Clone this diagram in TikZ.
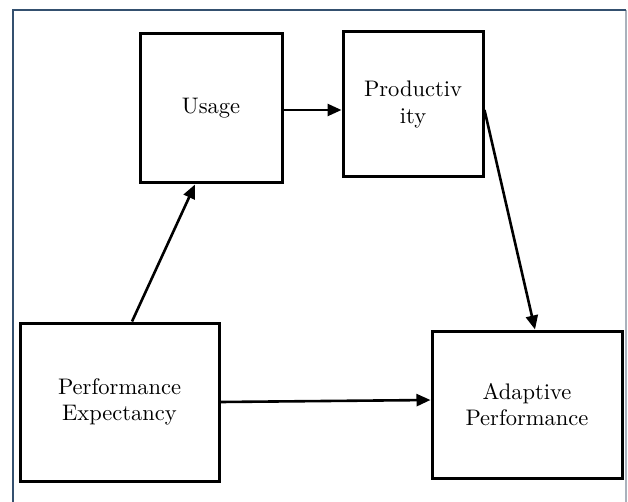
\documentclass[tikz,border=0pt]{standalone}
\usepackage{fontspec}
\setmainfont{lmroman10-regular}[Extension=.otf]
\usetikzlibrary{arrows.meta}
\definecolor{frameblue}{HTML}{34506F}
\definecolor{framegray}{HTML}{A9B2BC}
\begin{document}
\begin{tikzpicture}[x=1pt,y=-1pt,
  box/.style={draw=black,line width=3pt,rectangle,align=center,inner sep=0pt,
    font=\rmfamily\fontsize{22.5}{26.5}\selectfont},
  arr/.style={line width=2.6pt,-{Triangle[length=14pt,width=12pt]}}]
\useasboundingbox (0,0) rectangle (628,502);
% frame
\draw[framegray,line width=1.5pt] (626,10) -- (626,502);
\draw[frameblue,line width=2.2pt] (13,502) -- (13,10) -- (626,10);
% boxes
\node[box,minimum width=142pt,minimum height=149pt] (usage) at (211,108.5) {Usage};
\node[box,minimum width=140pt,minimum height=145pt] (prod) at (413,104.5) {Productiv\\ity};
\node[box,minimum width=199pt,minimum height=158pt] (pe) at (119.5,402) {Performance\\Expectancy};
\node[box,minimum width=190pt,minimum height=147pt] (ap) at (527,404.5) {Adaptive\\Performance};
% arrows
\draw[arr] ([xshift=12.5pt]pe.north) -- ([xshift=-16pt]usage.south);
\draw[arr] ([yshift=-1.5pt]usage.east) -- ([yshift=-5.5pt]prod.west);
\draw[arr] ([yshift=-5.5pt]prod.east) -- ([xshift=8pt]ap.north);
\draw[arr] (pe.east) -- ([yshift=4.5pt]ap.west);
\end{tikzpicture}
\end{document}
